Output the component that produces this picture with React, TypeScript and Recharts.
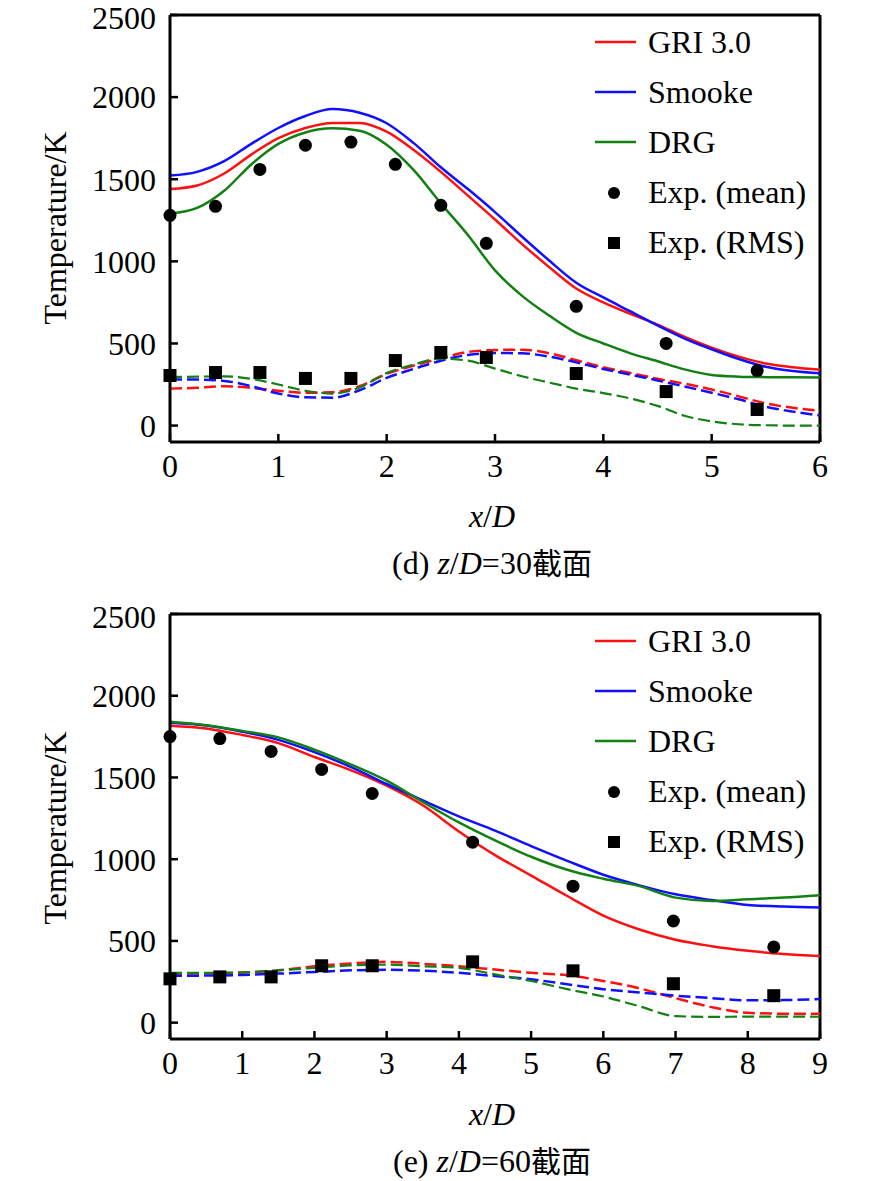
import React from "react";
import {
  ComposedChart,
  Line,
  Scatter,
  XAxis,
  YAxis,
  ReferenceLine,
  Legend,
} from "recharts";

// ---- panel (d): z/D = 30 ----
const xGridD = [0, 0.25, 0.5, 0.75, 1, 1.25, 1.5, 1.75, 2, 2.25, 2.5, 2.75, 3, 3.25, 3.5, 3.75, 4, 4.25, 4.5, 4.75, 5, 5.25, 5.5, 5.75, 6];
const griMeanD = [1440, 1462, 1535, 1650, 1750, 1812, 1843, 1843, 1790, 1678, 1545, 1400, 1255, 1105, 965, 835, 750, 680, 615, 540, 475, 420, 378, 355, 340];
const smookeMeanD = [1522, 1545, 1610, 1715, 1812, 1885, 1927, 1905, 1841, 1720, 1573, 1440, 1300, 1150, 1005, 870, 780, 695, 610, 530, 465, 405, 358, 332, 318];
const drgMeanD = [1290, 1325, 1430, 1590, 1715, 1785, 1810, 1795, 1710, 1555, 1353, 1160, 945, 790, 670, 565, 500, 440, 392, 342, 308, 298, 295, 294, 293];
const griRmsD = [225, 230, 240, 230, 212, 200, 203, 240, 315, 365, 410, 448, 460, 462, 440, 398, 355, 320, 285, 255, 220, 178, 135, 108, 90];
const smookeRmsD = [280, 280, 272, 240, 195, 172, 170, 215, 290, 345, 395, 430, 442, 440, 420, 385, 345, 310, 275, 238, 200, 160, 115, 85, 62];
const drgRmsD = [295, 298, 300, 285, 250, 212, 195, 232, 320, 372, 408, 395, 347, 300, 262, 225, 198, 165, 120, 60, 25, 8, 2, 0, 0];
const expXD = [0, 0.42, 0.83, 1.25, 1.67, 2.08, 2.5, 2.92, 3.75, 4.58, 5.42];
const expMeanD = [1280, 1335, 1560, 1707, 1726, 1591, 1341, 1110, 726, 500, 335];
const expRmsD = [305, 323, 323, 287, 287, 396, 445, 415, 317, 207, 98];

// ---- panel (e): z/D = 60 ----
const xGridE = [0, 0.5, 1, 1.5, 2, 2.5, 3, 3.5, 4, 4.5, 5, 5.5, 6, 6.5, 7, 7.5, 8, 8.5, 9];
const griMeanE = [1817, 1800, 1760, 1710, 1625, 1545, 1450, 1330, 1170, 1025, 900, 775, 655, 570, 507, 468, 440, 420, 408];
const smookeMeanE = [1835, 1818, 1780, 1730, 1655, 1565, 1460, 1360, 1262, 1175, 1080, 990, 905, 840, 785, 750, 720, 710, 705];
const drgMeanE = [1841, 1820, 1785, 1745, 1670, 1580, 1480, 1350, 1225, 1115, 1015, 935, 880, 835, 765, 745, 755, 765, 780];
const griRmsE = [299, 302, 306, 320, 345, 362, 372, 360, 345, 325, 305, 290, 255, 210, 150, 95, 60, 55, 55];
const smookeRmsE = [287, 288, 292, 300, 310, 320, 323, 318, 305, 285, 265, 235, 205, 185, 165, 150, 137, 138, 145];
const drgRmsE = [305, 305, 308, 320, 335, 350, 355, 345, 335, 295, 255, 205, 160, 100, 40, 35, 37, 37, 36];
const expXE = [0, 0.69, 1.4, 2.1, 2.8, 4.19, 5.58, 6.97, 8.36];
const expMeanE = [1750, 1738, 1659, 1549, 1402, 1104, 835, 622, 463];
const expRmsE = [268, 280, 280, 348, 348, 372, 317, 238, 165];

const yTicks = [0, 500, 1000, 1500, 2000, 2500];
const xTicksD = [0, 1, 2, 3, 4, 5, 6];
const xTicksE = [0, 1, 2, 3, 4, 5, 6, 7, 8, 9];

const RED = "#ff1010";
const BLUE = "#1010ff";
const GREEN = "#128012";
const SERIF = "'Liberation Serif', Tinos, 'Times New Roman', 'DejaVu Serif', serif";
const FS = 32;

const legendItems = [
  { name: "GRI 3.0", kind: "line", color: RED },
  { name: "Smooke", kind: "line", color: BLUE },
  { name: "DRG", kind: "line", color: GREEN },
  { name: "Exp. (mean)", kind: "circle", color: "#000" },
  { name: "Exp. (RMS)", kind: "square", color: "#000" },
];

const LegendBox = () => (
  <div style={{ fontFamily: SERIF, fontSize: FS, color: "#000" }}>
    {legendItems.map((it) => (
      <div key={it.name} style={{ display: "flex", alignItems: "center", height: 50, whiteSpace: "nowrap" }}>
        <svg width={58} height={50} style={{ display: "block" }}>
          {it.kind === "line" && <line x1={5} x2={46} y1={25} y2={25} stroke={it.color} strokeWidth={2.5} />}
          {it.kind === "circle" && <circle cx={24} cy={26} r={6} fill="#000" />}
          {it.kind === "square" && <rect x={18} y={20} width={12} height={12} fill="#000" />}
        </svg>
        <span>{it.name}</span>
      </div>
    ))}
  </div>
);

const Dot = (p: any) => <circle cx={p.cx} cy={p.cy} r={6.5} fill="#000" />;
const Sq = (p: any) => <rect x={p.cx - 6.5} y={p.cy - 6.5} width={13} height={13} fill="#000" />;

// top label is nudged down a little so it stays inside the page
const YTick = (p: any) => (
  <text
    x={p.x}
    y={p.y + (p.payload.value === 2500 ? 3 : 0)}
    dy="0.355em"
    textAnchor="end"
    fontFamily={SERIF}
    fontSize={FS}
    fill="#000"
  >
    {p.payload.value}
  </text>
);

const build = (xs: number[], cols: Record<string, number[]>) =>
  xs.map((x, i) => {
    const row: any = { x };
    Object.keys(cols).forEach((k) => (row[k] = cols[k][i]));
    return row;
  });

type PanelProps = {
  data: any[];
  expX: number[];
  expMean: number[];
  expRms: number[];
  xMax: number;
  xTicks: number[];
  bottom: number;
};

const Panel = ({ data, expX, expMean, expRms, xMax, xTicks, bottom }: PanelProps) => {
  const meanPts = expX.map((x, i) => ({ x, y: expMean[i] }));
  const rmsPts = expX.map((x, i) => ({ x, y: expRms[i] }));
  const tickStyle = { fontFamily: SERIF, fontSize: FS, fill: "#000" };
  return (
    <ComposedChart width={886} height={600} data={data} margin={{ top: 25, right: 66, left: 0, bottom }}>
      <XAxis
        dataKey="x"
        type="number"
        domain={[0, xMax]}
        ticks={xTicks}
        interval={0}
        height={40}
        tickSize={-8}
        tickMargin={20}
        tick={tickStyle}
        axisLine={{ stroke: "#000", strokeWidth: 3 }}
        tickLine={{ stroke: "#000", strokeWidth: 2.5 }}
      />
      <YAxis
        type="number"
        domain={[-100, 2500]}
        ticks={yTicks}
        interval={0}
        width={170}
        tickSize={-8}
        tickMargin={22}
        tick={YTick}
        axisLine={{ stroke: "#000", strokeWidth: 3 }}
        tickLine={{ stroke: "#000", strokeWidth: 2.5 }}
      />
      <ReferenceLine y={2500} stroke="#000" strokeWidth={3} />
      <ReferenceLine x={xMax} stroke="#000" strokeWidth={3} />
      <Line dataKey="griRms" type="monotone" stroke={RED} strokeWidth={2.5} strokeDasharray="12 5" dot={false} isAnimationActive={false} />
      <Line dataKey="smookeRms" type="monotone" stroke={BLUE} strokeWidth={2.5} strokeDasharray="12 5" dot={false} isAnimationActive={false} />
      <Line dataKey="drgRms" type="monotone" stroke={GREEN} strokeWidth={2.2} strokeDasharray="12 5" dot={false} isAnimationActive={false} />
      <Line dataKey="gri" type="monotone" stroke={RED} strokeWidth={2.5} dot={false} isAnimationActive={false} />
      <Line dataKey="smooke" type="monotone" stroke={BLUE} strokeWidth={2.5} dot={false} isAnimationActive={false} />
      <Line dataKey="drg" type="monotone" stroke={GREEN} strokeWidth={2.5} dot={false} isAnimationActive={false} />
      <Scatter data={meanPts} dataKey="y" shape={Dot} isAnimationActive={false} />
      <Scatter data={rmsPts} dataKey="y" shape={Sq} isAnimationActive={false} />
      <Legend
        layout="vertical"
        align="center"
        verticalAlign="middle"
        wrapperStyle={{ top: 27, left: 590, width: 260 }}
        content={() => <LegendBox />}
      />
    </ComposedChart>
  );
};

const dataD = build(xGridD, {
  gri: griMeanD,
  smooke: smookeMeanD,
  drg: drgMeanD,
  griRms: griRmsD,
  smookeRms: smookeRmsD,
  drgRms: drgRmsD,
});
const dataE = build(xGridE, {
  gri: griMeanE,
  smooke: smookeMeanE,
  drg: drgMeanE,
  griRms: griRmsE,
  smookeRms: smookeRmsE,
  drgRms: drgRmsE,
});

const textBase: React.CSSProperties = {
  position: "absolute",
  fontFamily: SERIF,
  fontSize: FS,
  color: "#000",
  whiteSpace: "nowrap",
  lineHeight: 1,
};

const YTitle = ({ cy }: { cy: number }) => (
  <div style={{ ...textBase, left: 55, top: cy, transform: "translate(-50%, -50%) rotate(-90deg)" }}>Temperature/K</div>
);

const Centered = ({ cy, children }: { cy: number; children: React.ReactNode }) => (
  <div style={{ ...textBase, left: 492, top: cy, transform: "translate(-50%, -50%)" }}>{children}</div>
);

const cjk = { fontFamily: "'Noto Sans CJK SC', sans-serif", fontSize: 30 };

export default function App() {
  return (
    <div style={{ position: "absolute", left: 0, top: 0, width: 886, height: 1181, background: "#fff", overflow: "hidden" }}>
      <div style={{ position: "absolute", left: 0, top: -10 }}>
        <Panel data={dataD} expX={expXD} expMean={expMeanD} expRms={expRmsD} xMax={6} xTicks={xTicksD} bottom={108} />
      </div>
      <div style={{ position: "absolute", left: 0, top: 589 }}>
        <Panel data={dataE} expX={expXE} expMean={expMeanE} expRms={expRmsE} xMax={9} xTicks={xTicksE} bottom={110} />
      </div>
      <YTitle cy={228} />
      <YTitle cy={828} />
      <Centered cy={516}>
        <i>x</i>/<i>D</i>
      </Centered>
      <Centered cy={562}>
        (d) <i>z</i>/<i>D</i>=30<span style={cjk}>截面</span>
      </Centered>
      <Centered cy={1114}>
        <i>x</i>/<i>D</i>
      </Centered>
      <Centered cy={1160}>
        (e) <i>z</i>/<i>D</i>=60<span style={cjk}>截面</span>
      </Centered>
    </div>
  );
}
